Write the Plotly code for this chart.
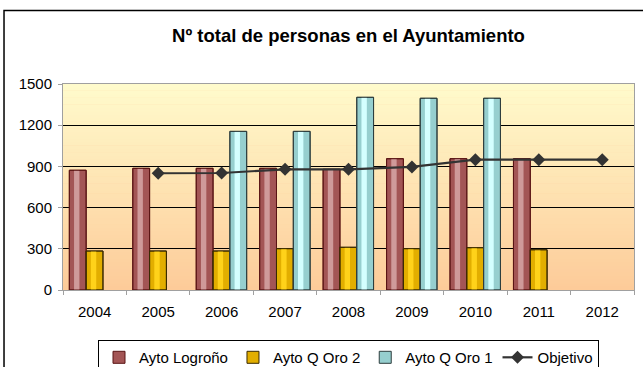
import plotly.graph_objects as go

# Years on the category axis
years = ["2004", "2005", "2006", "2007", "2008", "2009", "2010", "2011", "2012"]

# Staff counts per series
logrono = [872, 886, 886, 886, 879, 956, 956, 956, None]
q_oro_2 = [284, 284, 284, 301, 311, 301, 308, 293, None]
q_oro_1 = [None, None, 1155, 1155, 1403, 1396, 1396, None, None]
objetivo = [None, 850, 852, 879, 879, 896, 949, 949, 949]

y_ticks = [0, 300, 600, 900, 1200, 1500]

FONT = "Liberation Sans, Arial, sans-serif"

# (name, values, base colour, highlight colour, edge colour, offset)
bar_series = [
    ("Ayto Logroño", logrono, "#A35555", "#CF9A9A", "#5A1414", -0.40),
    ("Ayto Q Oro 2", q_oro_2, "#E2AE00", "#FFD21A", "#3A2A00", -0.135),
    ("Ayto Q Oro 1", q_oro_1, "#96CFCF", "#D4FFFF", "#2E3E3E", 0.13),
]
BAR_W = 0.265

fig = go.Figure()

for name, vals, base, hi, edge, off in bar_series:
    # body of the bar
    fig.add_trace(go.Bar(
        x=years, y=vals, name=name, offset=off, width=BAR_W,
        marker=dict(color=base, line=dict(color=edge, width=1)),
        showlegend=True,
    ))
    # lighter stripe giving the rounded look
    fig.add_trace(go.Bar(
        x=years, y=vals, offset=off + BAR_W * 0.28, width=BAR_W * 0.32,
        marker=dict(color=hi, line=dict(width=0)),
        showlegend=False, hoverinfo="skip",
    ))
    # dark edge redrawn on top
    fig.add_trace(go.Bar(
        x=years, y=vals, offset=off, width=BAR_W,
        marker=dict(color="rgba(0,0,0,0)", line=dict(color=edge, width=1)),
        showlegend=False, hoverinfo="skip",
    ))

fig.add_trace(go.Scatter(
    x=years, y=objetivo, name="Objetivo", mode="lines+markers",
    line=dict(color="#333333", width=2.2),
    marker=dict(symbol="diamond", size=10, color="#333333"),
    connectgaps=False,
))

# vertical gradient in the plot area, light yellow at top to peach at bottom
shapes = []
n = 60
top_rgb = (255, 251, 204)
bot_rgb = (253, 203, 153)
for i in range(n):
    t = (i + 0.5) / n
    r = round(bot_rgb[0] + (top_rgb[0] - bot_rgb[0]) * t)
    g = round(bot_rgb[1] + (top_rgb[1] - bot_rgb[1]) * t)
    b = round(bot_rgb[2] + (top_rgb[2] - bot_rgb[2]) * t)
    shapes.append(dict(
        type="rect", xref="paper", yref="paper", layer="below",
        x0=0, x1=1, y0=i / n, y1=(i + 1) / n + 0.002,
        fillcolor=f"rgb({r},{g},{b})", line=dict(width=0),
    ))

# outer chart frame (runs past the right and bottom edges)
shapes.append(dict(
    type="rect", xref="paper", yref="paper", layer="above",
    x0=-0.1033, x1=1.2, y0=-1.0, y1=1.357,
    line=dict(color="#000000", width=1.5), fillcolor="rgba(0,0,0,0)",
))

fig.update_layout(
    width=643, height=367,
    margin=dict(l=63, r=9, t=84, b=77, autoexpand=False),
    paper_bgcolor="#FFFFFF",
    plot_bgcolor="rgb(253,203,153)",
    barmode="overlay",
    shapes=shapes,
    font=dict(family=FONT, size=15, color="#000000"),
    title=dict(
        text="<b>Nº total de personas en el Ayuntamiento</b>",
        x=0.5, xref="paper", xanchor="center",
        y=1 - 36 / 367, yref="container", yanchor="middle",
        font=dict(family=FONT, size=18.5, color="#000000"),
    ),
    legend=dict(
        orientation="h", x=0.5, xanchor="center", y=-0.243, yanchor="top",
        bordercolor="#000000", borderwidth=1, bgcolor="#FFFFFF",
        font=dict(family=FONT, size=15),
        itemwidth=30, tracegroupgap=0,
        traceorder="normal",
    ),
    xaxis=dict(
        type="category", range=[-0.5, 8.5],
        showgrid=False, showline=True, linecolor="#A0A0A0", linewidth=1,
        mirror=True, ticks="outside", tickson="boundaries", ticklen=4,
        tickcolor="#A0A0A0", tickfont=dict(family=FONT, size=15),
        ticklabelstandoff=8,
    ),
    yaxis=dict(
        range=[0, 1500], tickvals=y_ticks, showgrid=True,
        gridcolor="#000000", gridwidth=1, zeroline=False,
        showline=True, linecolor="#A0A0A0", linewidth=1, mirror=True,
        ticks="outside", ticklen=4, tickcolor="#A0A0A0",
        tickfont=dict(family=FONT, size=15), ticklabelstandoff=3,
    ),
)

fig.write_html("out.html")
